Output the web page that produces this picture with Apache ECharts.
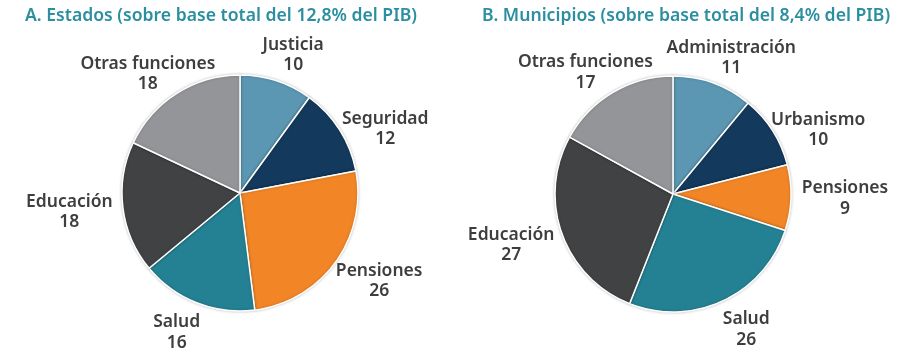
<!DOCTYPE html>
<html><head><meta charset="utf-8">
<script src="https://cdn.jsdelivr.net/npm/echarts@6/dist/echarts.min.js"></script>
<style>html,body{margin:0;padding:0;background:#fff}#c{width:898px;height:357px}</style>
</head><body><div id="c"></div>
<script>
const titleA = 'A. Estados (sobre base total del 12,8% del PIB)';
const titleB = 'B. Municipios (sobre base total del 8,4% del PIB)';
const catsA = ['Justicia','Seguridad','Pensiones','Salud','Educación','Otras funciones'];
const valsA = [10,12,26,16,18,18];
const catsB = ['Administración','Urbanismo','Pensiones','Salud','Educación','Otras funciones'];
const valsB = [11,10,9,26,27,17];
const colors = ['#5b97b2','#13395c','#f28627','#248193','#414244','#939598'];

const R = 118;
const centers = [[240,193],[673,194]];
const valSets = [valsA, valsB];

// labels placed around each pie at the slice's mid angle
function layoutFn(params){
  const s = params.seriesIndex, i = params.dataIndex;
  const vals = valSets[s];
  const total = vals.reduce((a,b)=>a+b,0);
  let cum = 0; for (let k=0;k<i;k++) cum += vals[k];
  const a = (cum + vals[i]/2) / total * 2 * Math.PI;
  const sx = Math.sin(a), cy = -Math.cos(a);
  const dx = sx * (R + 54);
  const dy = cy < 0 ? -Math.max(0, (R + 60) * -cy - 31.5) : cy * (R + 32);
  return {x: centers[s][0] + dx, y: centers[s][1] + dy, align:'center', verticalAlign:'middle'};
}

function mk(cats, vals, idx){
  return {
    type:'pie', radius: R, center: centers[idx], startAngle: 90, clockwise: true,
    avoidLabelOverlap: false, animation: false,
    data: cats.map((n,k)=>({name:n, value:vals[k], itemStyle:{color:colors[k]}})),
    itemStyle:{borderColor:'#fff', borderWidth:1.5, shadowColor:'rgba(0,0,0,0.22)', shadowBlur:3},
    label:{show:true, position:'outside', formatter:'{b}\n{c}', fontFamily:'Noto Sans', fontWeight:600,
      fontSize:17.5, lineHeight:20.5, color:'#3e3e3e', align:'center'},
    labelLine:{show:false},
    labelLayout: layoutFn,
    emphasis:{disabled:true}
  };
}

const chart = echarts.init(document.getElementById('c'));
chart.setOption({
  backgroundColor:'#fff',
  title:[
    {text:titleA, left:20, top:2, textStyle:{fontFamily:'Noto Sans', fontWeight:600, fontSize:17.6, color:'#2b8fa1'}},
    {text:titleB, left:477, top:2, textStyle:{fontFamily:'Noto Sans', fontWeight:600, fontSize:17.6, color:'#2b8fa1'}}
  ],
  series:[mk(catsA, valsA, 0), mk(catsB, valsB, 1)]
});
</script></body></html>
